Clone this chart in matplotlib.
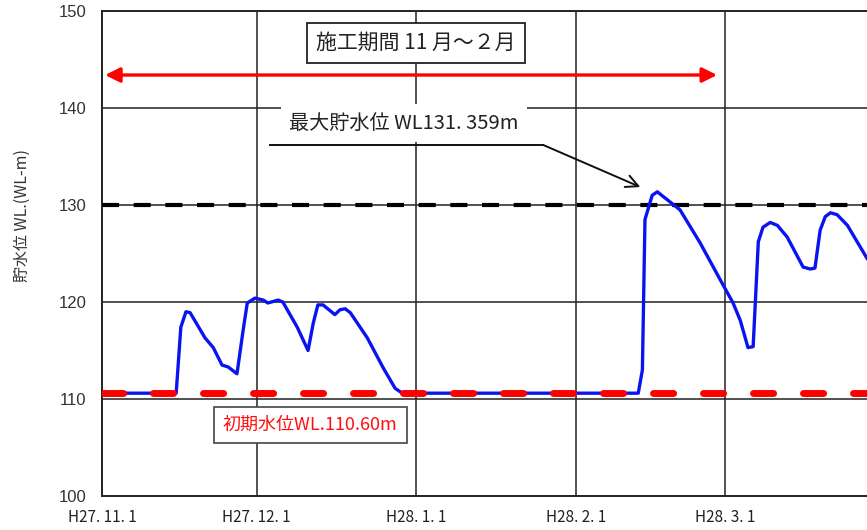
import datetime as dt
import matplotlib
matplotlib.use("Agg")
import matplotlib.pyplot as plt

plt.rcParams['font.family'] = ['Noto Sans CJK JP', 'DejaVu Sans']

# ---------------- data ----------------
start_date = dt.datetime(2015, 11, 1)   # H27.11.1
# days after start, reservoir water level (WL-m)
level_days = [0, 14.4, 15.3, 16.3, 17.1, 20.0, 21.6, 23.3, 24.5, 26.2, 27.4, 28.2,
              29.7, 31.3, 32.2, 34.2, 35.1, 37.9, 40.0, 41.0, 41.9, 42.9, 45.2,
              46.2, 47.2, 48.2, 51.5, 54.6, 56.9, 58.3, 104.1, 104.9, 105.4, 106.8,
              107.8, 110.3, 112.2, 116.1, 120.0, 122.5, 123.9, 125.4, 126.4, 127.4,
              128.3, 129.7, 131.1, 133.0, 136.1, 137.5, 138.4, 139.4, 140.4, 141.4,
              142.7, 144.7, 148.5, 150.0]
level_values = [110.6, 110.6, 117.4, 119.0, 118.9, 116.3, 115.3, 113.5, 113.3, 112.6,
                117.1, 119.9, 120.4, 120.2, 119.9, 120.2, 120.0, 117.4, 115.0, 117.8,
                119.7, 119.7, 118.7, 119.2, 119.3, 118.9, 116.3, 113.2, 111.1, 110.6,
                110.6, 113.0, 128.5, 131.0, 131.359, 130.3, 129.5, 126.1, 122.3, 119.9,
                118.1, 115.3, 115.4, 126.2, 127.7, 128.2, 127.9, 126.7, 123.6, 123.4,
                123.5, 127.4, 128.8, 129.2, 129.0, 127.9, 124.5, 123.6]

initial_level = 110.60
max_level = 131.359
max_line_level = 130.0

month_ticks = ["2015-11-01", "2015-12-01", "2016-01-01", "2016-02-01", "2016-03-01"]
month_labels = ["H27. 11. 1", "H27. 12. 1", "H28. 1. 1", "H28. 2. 1", "H28. 3. 1"]
y_ticks = [100, 110, 120, 130, 140, 150]

construction_text = "施工期間 11 月～２月"
max_text = "最大貯水位 WL131. 359m"
initial_text = "初期水位WL.110.60m"
ylabel_text = "貯水位 WL.(WL-m)"

def day(d):
    return start_date + dt.timedelta(days=d)

dates = [day(d) for d in level_days]
tick_dates = [dt.datetime.fromisoformat(s) for s in month_ticks]

# ---------------- figure ----------------
fig = plt.figure(figsize=(8.67, 5.30), dpi=100)
ax = fig.add_axes([102/867, 34/530, 765/867, 485/530])

ax.set_xlim(day(0), day(148.5))
ax.set_ylim(100, 150)

# grid
for td in tick_dates[1:]:
    ax.axvline(td, color='#222222', lw=1.1, zorder=1)
for yv in [110, 120, 130, 140]:
    ax.axhline(yv, color='#222222', lw=1.1, zorder=1)

# reference lines
ax.plot([day(0), day(160)], [max_line_level]*2, color='black', lw=3.0,
        dashes=(4.1, 3.5), zorder=3)
ax.plot([day(0.2), day(160)], [initial_level]*2, color='#ff0000', lw=5.0,
        dashes=(2.9, 4.3), dash_capstyle='round', zorder=5)

# water level
ax.plot(dates, level_values, color='#0a14f0', lw=2.4, zorder=4,
        solid_joinstyle='round')

# construction period arrow
ax.annotate('', xy=(day(0.6), 143.4), xytext=(day(119.4), 143.4),
            arrowprops=dict(arrowstyle='<|-|>', color='#ff0000', lw=2.4,
                            mutation_scale=22, shrinkA=0, shrinkB=0), zorder=5)
ax.text(day(61), 146.7, construction_text, ha='center', va='center',
        fontsize=15, color='#222222', zorder=6,
        bbox=dict(boxstyle='square,pad=0.45', fc='white', ec='#222222', lw=1.3))

# max level annotation
ax.text(day(58.6), 138.45, max_text, ha='center', va='center', fontsize=14.5,
        color='#222222', zorder=6,
        bbox=dict(boxstyle='square,pad=0.4', fc='white', ec='none'))
ax.plot([day(32.6), day(85.6)], [136.2, 136.2], color='#111111', lw=1.4, zorder=6)
ax.annotate('', xy=(day(104.5), 131.85), xytext=(day(85.6), 136.2),
            arrowprops=dict(arrowstyle='->', color='#111111', lw=1.4,
                            mutation_scale=22, shrinkA=0, shrinkB=0), zorder=6)

# initial level label
ax.text(day(40.4), 107.3, initial_text, ha='center', va='center', fontsize=13,
        color='#ff1010', zorder=6,
        bbox=dict(boxstyle='square,pad=0.5', fc='white', ec='#444444', lw=1.2))

# axes styling
ax.set_xticks(tick_dates)
ax.set_xticklabels(month_labels, fontsize=11, color='#222222')
ax.set_yticks(y_ticks)
ax.set_yticklabels([str(v) for v in y_ticks], fontsize=12, color='#333333',
                   family=['Liberation Sans', 'DejaVu Sans'])
ax.tick_params(axis='both', length=0)
ax.tick_params(axis='y', pad=11)
ax.tick_params(axis='x', pad=9)
for s in ['left', 'bottom', 'top']:
    ax.spines[s].set_color('#222222')
    ax.spines[s].set_linewidth(1.4)
ax.spines['right'].set_visible(False)

fig.text(22/867, 1 - 215/530, ylabel_text, rotation=90, ha='center', va='center',
         fontsize=11.5, color='#333333')

fig.savefig('out.png', dpi=100)
